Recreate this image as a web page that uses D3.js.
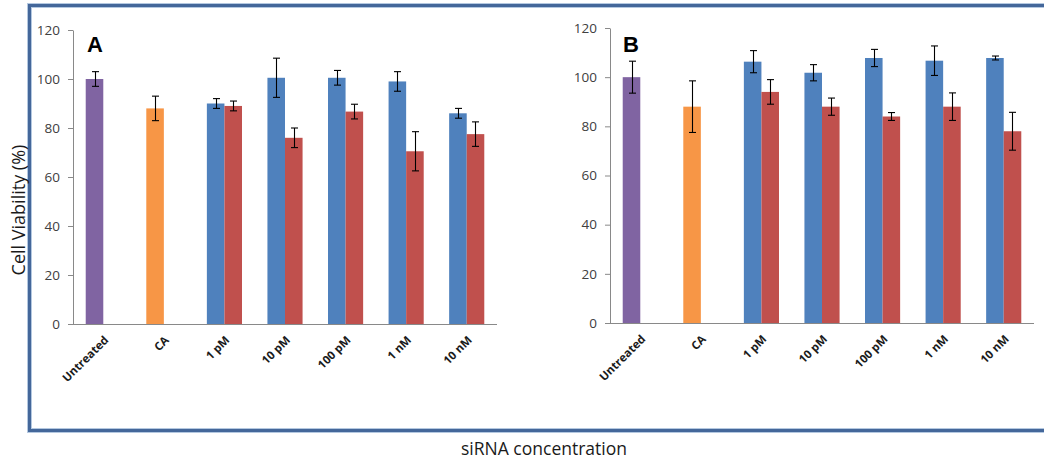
<!DOCTYPE html>
<html>
<head>
<meta charset="utf-8">
<script src="https://cdn.jsdelivr.net/npm/d3@7"></script>
<style>
  html, body { margin: 0; padding: 0; background: #fff; }
  svg { display: block; }
</style>
</head>
<body>
<svg id="chart" width="1044" height="462"></svg>
<script>
// Treatment groups along the x axis
const categories = ["Untreated", "CA", "1 pM", "10 pM", "100 pM", "1 nM", "10 nM"];
const yTicks = [0, 20, 40, 60, 80, 100, 120];

// Panel A: first slot (controls + blue series) and second slot (red series)
const seriesA1 = [100, 88, 90, 100.5, 100.5, 99, 86];
const errorA1  = [3, 5, 2, 8, 3, 4, 2];
const seriesA2 = [null, null, 89, 76, 86.7, 70.5, 77.5];
const errorA2  = [null, null, 2, 4, 3, 8, 5];

// Panel B
const seriesB1 = [100, 88, 106.3, 101.8, 107.8, 106.7, 107.8];
const errorB1  = [6.5, 10.5, 4.5, 3.3, 3.5, 6, 0.8];
const seriesB2 = [null, null, 94, 88, 84, 88, 78];
const errorB2  = [null, null, 5, 3.5, 1.6, 5.6, 7.7];

// Fill per category for the first slot; second slot is always red
const slot1Colors = ["#8064A2", "#F79646", "#4F81BD", "#4F81BD", "#4F81BD", "#4F81BD", "#4F81BD"];
const slot2Color = "#C0504D";

const svg = d3.select("#chart");
const font = "'Open Sans', 'Liberation Sans', sans-serif";
const axisColor = "#898989";
const textColor = "#404040";

// Outer frame around both panels
svg.append("rect")
  .attr("x", 29.5).attr("y", 5.5).attr("width", 1040).attr("height", 425)
  .attr("fill", "none").attr("stroke", "#b4c8e0").attr("stroke-width", 5);
svg.append("rect")
  .attr("x", 29.5).attr("y", 5.5).attr("width", 1040).attr("height", 425)
  .attr("fill", "none").attr("stroke", "#44679a").attr("stroke-width", 3);

function drawPanel(opt) {
  const g = svg.append("g");
  const x = d3.scaleBand().domain(categories)
    .range([opt.x0, opt.x1]).paddingInner(0.42).paddingOuter(0.21);
  const sub = d3.scaleBand().domain([0, 1]).range([0, x.bandwidth()]);
  const y = d3.scaleLinear().domain([0, 120]).range([opt.yBottom, opt.yTop]);

  // y axis
  const yAxis = g.append("g")
    .attr("transform", `translate(${opt.x0},0)`)
    .call(d3.axisLeft(y).tickValues(yTicks).tickSize(5).tickPadding(8).tickSizeOuter(0));
  yAxis.select(".domain").attr("stroke", axisColor);
  yAxis.selectAll(".tick line").attr("stroke", axisColor);
  yAxis.selectAll(".tick text")
    .attr("fill", textColor).style("font-family", font).style("font-size", "13.5px");

  // bars
  const bars = [];
  categories.forEach((c, i) => {
    if (opt.s1[i] != null) bars.push({ c, slot: 0, v: opt.s1[i], e: opt.e1[i], fill: slot1Colors[i] });
    if (opt.s2[i] != null) bars.push({ c, slot: 1, v: opt.s2[i], e: opt.e2[i], fill: slot2Color });
  });

  g.selectAll("rect.bar").data(bars).join("rect")
    .attr("class", "bar")
    .attr("x", d => x(d.c) + sub(d.slot))
    .attr("width", sub.bandwidth())
    .attr("y", d => y(d.v))
    .attr("height", d => y(0) - y(d.v))
    .attr("fill", d => d.fill);

  // x axis baseline
  g.append("line")
    .attr("x1", opt.x0).attr("x2", opt.x1)
    .attr("y1", y(0) + 0.5).attr("y2", y(0) + 0.5)
    .attr("stroke", axisColor);

  // error bars
  const cap = 3.5;
  const eb = g.selectAll("g.err").data(bars).join("g").attr("class", "err")
    .attr("stroke", "#000").attr("stroke-width", 1.1);
  const cx = d => Math.round(x(d.c) + sub(d.slot) + sub.bandwidth() / 2) + 0.5;
  eb.append("line")
    .attr("x1", cx).attr("x2", cx)
    .attr("y1", d => y(d.v + d.e)).attr("y2", d => y(d.v - d.e));
  eb.append("line")
    .attr("x1", d => cx(d) - cap).attr("x2", d => cx(d) + cap)
    .attr("y1", d => y(d.v + d.e)).attr("y2", d => y(d.v + d.e));
  eb.append("line")
    .attr("x1", d => cx(d) - cap).attr("x2", d => cx(d) + cap)
    .attr("y1", d => y(d.v - d.e)).attr("y2", d => y(d.v - d.e));

  // rotated category labels
  g.selectAll("text.cat").data(categories).join("text")
    .attr("class", "cat")
    .attr("transform", c => `translate(${x(c) + x.bandwidth() / 2 + 3},${y(0) + 14}) rotate(-45)`)
    .attr("text-anchor", "end")
    .attr("dy", "0.35em")
    .attr("fill", "#1a1a1a")
    .style("font-family", font).style("font-size", "11.5px").style("font-weight", "bold")
    .text(c => c);

  // panel letter
  g.append("text")
    .attr("x", opt.letterX).attr("y", 52)
    .attr("fill", "#000")
    .style("font-family", "'Liberation Sans', Arial, sans-serif")
    .style("font-size", "22px").style("font-weight", "bold")
    .text(opt.letter);
}

drawPanel({ x0: 73, x1: 497, yBottom: 324, yTop: 30, s1: seriesA1, e1: errorA1, s2: seriesA2, e2: errorA2, letter: "A", letterX: 87 });
drawPanel({ x0: 610, x1: 1034, yBottom: 323, yTop: 28, s1: seriesB1, e1: errorB1, s2: seriesB2, e2: errorB2, letter: "B", letterX: 623 });

// axis titles
svg.append("text")
  .attr("transform", "translate(25,210) rotate(-90)")
  .attr("text-anchor", "middle")
  .attr("fill", "#1a1a1a")
  .style("font-family", font).style("font-size", "18px")
  .text("Cell Viability (%)");

svg.append("text")
  .attr("x", 544).attr("y", 455)
  .attr("text-anchor", "middle")
  .attr("fill", "#1a1a1a")
  .style("font-family", font).style("font-size", "17.5px")
  .text("siRNA concentration");
</script>
</body>
</html>
